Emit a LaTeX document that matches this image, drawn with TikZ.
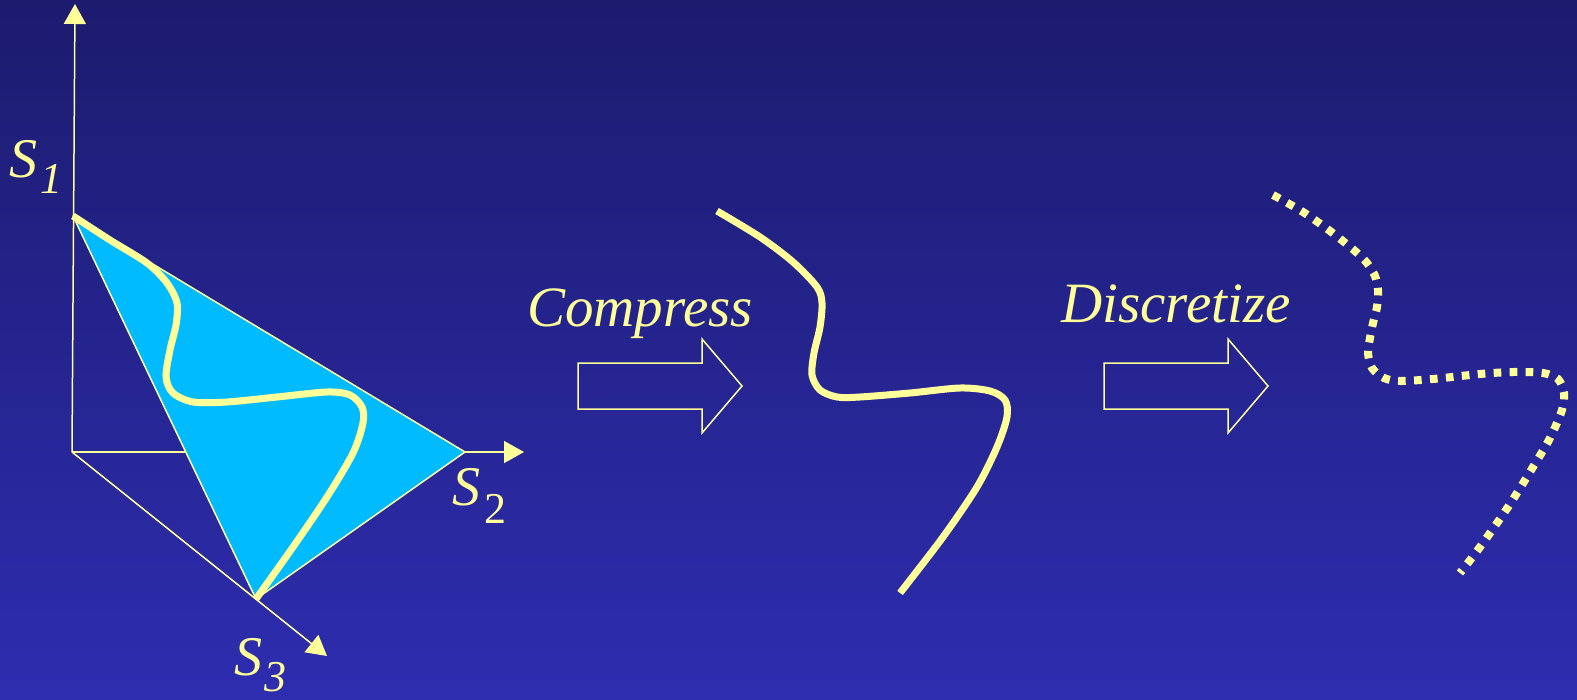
\documentclass[tikz,border=0pt]{standalone}
\usepackage{fontspec}
\setmainfont{Liberation Serif}
\usepackage{tikz}
\usetikzlibrary{arrows.meta}
\definecolor{bgtop}{HTML}{1C1B6E}
\definecolor{bgbot}{HTML}{2E2DB0}
\definecolor{ylw}{HTML}{FFFF99}
\definecolor{cyn}{HTML}{00BBFF}
\tikzset{
  >={Triangle[length=10pt,width=11pt]},
  axis/.style={->,draw=ylw,line width=0.75pt},
  simp/.style={draw=ylw,fill=cyn,line width=0.75pt,line join=round},
  traj/.style={draw=ylw,line width=3.5pt,line join=round},
  dtraj/.style={traj,line width=4pt,dash pattern=on 3.8pt off 4.2pt},
  blk/.style={draw=ylw,line width=0.75pt,line join=miter},
  word/.style={text=ylw,font=\fontsize{28.5}{30}\selectfont\itshape,inner sep=0pt},
  lab/.style={text=ylw,font=\fontsize{28}{30}\selectfont\itshape,inner sep=0pt},
}
\newcommand\subdig[2]{\raisebox{-#1}{\fontsize{22}{24}\selectfont #2}}

\begin{document}
\begin{tikzpicture}[x=0.5pt,y=-0.5pt]
\useasboundingbox (0,0) rectangle (1577,700);
\shade[top color=bgtop,bottom color=bgbot] (0,0) rectangle (1577,700);
% axes
\coordinate (O) at (72,452);
\coordinate (s1tip) at (75,4);
\coordinate (s2tip) at (524,452);
\coordinate (s3tip) at (327,656);
\draw[axis] (O) -- (s1tip);
\draw[axis] (O) -- (s2tip);
\draw[axis] (O) -- (s3tip);
\node[lab,anchor=base west] (s1lab) at (9,178) {S\kern1.5pt\subdig{7.5pt}{1}};
\node[lab,anchor=base west] (s2lab) at (452,505) {S\kern2pt\subdig{9pt}{\upshape 2}};
\node[lab,anchor=base west] (s3lab) at (234,675) {S\kern1pt\subdig{8pt}{3}};
% simplex and trajectory
\coordinate (A) at (73,216);
\coordinate (B) at (465,452);
\coordinate (C) at (256,599);
\filldraw[simp] (A) -- (B) -- (C) -- cycle;
\draw[traj] plot[smooth] coordinates {(A) (110,240) (147,263) (167,283) (177,303) (176,325) (170,350) (166,377) (173,393) (193,402) (227,402) (277,397) (327,392) (350,395) (362,407) (363,423) (353,453) (327,497) (293,547) (C)};
% block arrows
\foreach \dx in {0,526}{
  \draw[blk] (578+\dx,363) -- (702+\dx,363) -- (702+\dx,339) -- (742+\dx,386) -- (702+\dx,433) -- (702+\dx,409) -- (578+\dx,409) -- cycle;}
\node[word,anchor=base] (compress) at (640,326) {Compress};
\node[word,anchor=base] (discretize) at (1176,322) {Discretize};
% compressed curve
\draw[traj] plot[smooth] coordinates {(717,211) (760,237) (793,262) (817,287) (822,303) (820,327) (814,353) (812,375) (820,390) (837,397) (860,397) (910,393) (960,388) (990,391) (1005,400) (1007,417) (997,447) (977,487) (943,537) (900,593)};
% discretized curve
\draw[dtraj] plot[smooth] coordinates {(1273,195) (1303,212) (1330,231) (1355,251) (1367,263) (1375,276) (1378,290) (1377,307) (1373,323) (1370,338) (1368,353) (1372,368) (1384,378) (1400,381) (1433,379) (1480,374) (1513,372) (1543,373) (1558,379) (1564,393) (1562,410) (1550,438) (1533,467) (1508,507) (1480,547) (1460,573)};
\end{tikzpicture}
\end{document}
